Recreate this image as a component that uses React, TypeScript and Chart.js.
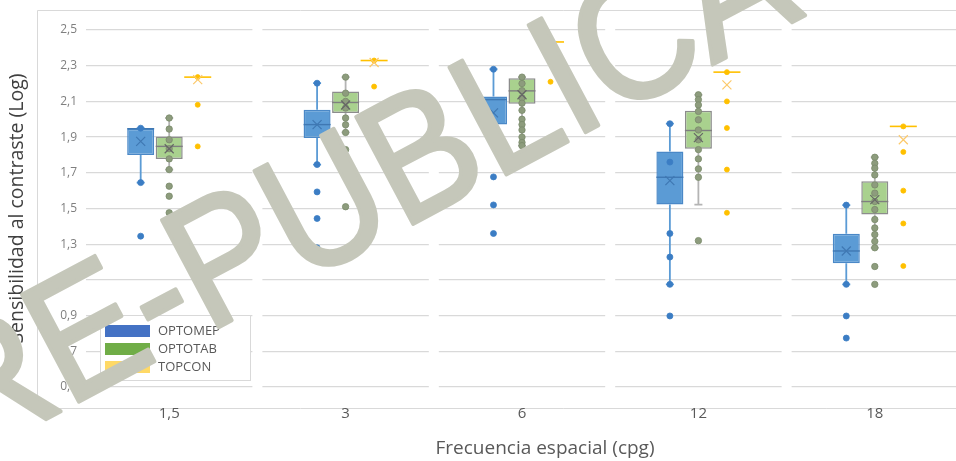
import React, { useEffect, useRef } from 'react';
import { Chart, registerables } from 'chart.js';

Chart.register(...registerables);

// ---------- data ----------
const categories = ['1,5', '3', '6', '12', '18'];
const seriesNames = ['OPTOMEP', 'OPTOTAB', 'TOPCON'];
const yMin = 0.5;
const yMax = 2.5;
const yStep = 0.2;

// OPTOMEP
const optomepQ1 = [1.8, 1.895, 1.97, 1.522, 1.193];
const optomepMedian = [1.947, 1.97, 2.11, 1.675, 1.262];
const optomepQ3 = [1.947, 2.053, 2.127, 1.82, 1.359];
const optomepLow = [1.645, 1.746, 1.97, 1.075, 1.075];
const optomepHigh = [1.95, 2.202, 2.28, 1.975, 1.519];
const optomepMean = [1.876, 1.97, 2.036, 1.656, 1.262];
const optomepPoints = [
  [1.95, 1.645, 1.345],
  [2.202, 1.746, 1.593, 1.444, 1.28],
  [2.28, 1.677, 1.52, 1.36],
  [1.975, 1.76, 1.36, 1.228, 1.075, 0.898],
  [1.519, 1.075, 0.898, 0.774],
];

// OPTOTAB
const optotabQ1 = [1.778, 2.035, 2.087, 1.835, 1.467];
const optotabMedian = [1.848, 2.094, 2.159, 1.937, 1.539];
const optotabQ3 = [1.904, 2.155, 2.23, 2.047, 1.653];
const optotabLow = [1.718, 1.926, 1.852, 1.522, 1.28];
const optotabHigh = [2.007, 2.236, 2.236, 2.137, 1.787];
const optotabMean = [1.835, 2.08, 2.137, 1.897, 1.55];
const optotabPoints = [
  [2.007, 1.945, 1.885, 1.835, 1.778, 1.718, 1.625, 1.569, 1.476],
  [2.236, 2.146, 2.1, 2.063, 2.007, 1.969, 1.926, 1.83, 1.51],
  [2.236, 2.2, 2.16, 2.12, 2.09, 2.05, 2.0, 1.97, 1.94, 1.9, 1.87, 1.852],
  [2.137, 2.11, 2.08, 2.044, 1.997, 1.94, 1.885, 1.83, 1.778, 1.722, 1.675, 1.32],
  [1.787, 1.753, 1.726, 1.688, 1.632, 1.586, 1.539, 1.494, 1.438, 1.391, 1.354, 1.316, 1.28, 1.175, 1.075],
];

// TOPCON
const topconQ1 = [2.236, 2.329, 2.433, 2.264, 1.96];
const topconMedian = [2.236, 2.329, 2.433, 2.264, 1.96];
const topconQ3 = [2.236, 2.329, 2.433, 2.264, 1.96];
const topconLow = [2.236, 2.329, 2.433, 2.264, 1.96];
const topconHigh = [2.236, 2.329, 2.433, 2.264, 1.96];
const topconMean = [2.222, 2.318, 2.405, 2.193, 1.885];
const topconPoints = [
  [2.236, 2.081, 1.848],
  [2.329, 2.183],
  [2.433, 2.21],
  [2.264, 2.1, 1.951, 1.718, 1.476],
  [1.96, 1.817, 1.6, 1.416, 1.178],
];

const watermarkText = 'PRE-PUBLICACIÓN';

// ---------- styles ----------
const series = [
  {
    q1: optomepQ1, med: optomepMedian, q3: optomepQ3, lo: optomepLow, hi: optomepHigh,
    mean: optomepMean, pts: optomepPoints,
    fill: '#5b9bd5', border: '#4a88c7', whisker: '#5b9bd5', medianColor: '#3f78b3',
    meanColor: '#3f78b3', pointFill: '#3b7dc4', pointStroke: '#3b7dc4', pointR: 3,
    legend: '#4472c4', flat: false,
  },
  {
    q1: optotabQ1, med: optotabMedian, q3: optotabQ3, lo: optotabLow, hi: optotabHigh,
    mean: optotabMean, pts: optotabPoints,
    fill: '#a9d18e', border: '#8c8c8c', whisker: '#b4b4b4', medianColor: '#7f7f7f',
    meanColor: '#666666', pointFill: '#8d9c7d', pointStroke: '#7a8a6b', pointR: 3.2,
    legend: '#70ad47', flat: false,
  },
  {
    q1: topconQ1, med: topconMedian, q3: topconQ3, lo: topconLow, hi: topconHigh,
    mean: topconMean, pts: topconPoints,
    fill: 'rgba(0,0,0,0)', border: '#ffc000', whisker: '#ffc000', medianColor: '#ffc000',
    meanColor: '#fcc96a', pointFill: '#ffc000', pointStroke: '#ffc000', pointR: 2.5,
    legend: '#ffd966', flat: true,
  },
];

const CANVAS_W = 1090;
const CANVAS_H = 461;

const decorPlugin = {
  id: 'boxDecor',
  beforeDraw(chart: any) {
    const { ctx } = chart;
    ctx.save();
    ctx.fillStyle = '#ffffff';
    ctx.fillRect(0, 0, chart.width, chart.height);
    ctx.strokeStyle = '#d9d9d9';
    ctx.lineWidth = 1;
    ctx.beginPath();
    ctx.moveTo(37.5, 10.5);
    ctx.lineTo(chart.width, 10.5);
    ctx.moveTo(37.5, 10.5);
    ctx.lineTo(37.5, 408.5);
    ctx.lineTo(chart.width, 408.5);
    ctx.stroke();
    ctx.restore();
  },
  beforeDatasetsDraw(chart: any) {
    const { ctx, chartArea } = chart;
    const ys = chart.scales.y;
    ctx.save();
    // gaps in the gridlines at category boundaries
    ctx.fillStyle = '#ffffff';
    const cw = (chartArea.right - chartArea.left) / categories.length;
    for (let k = 0; k <= categories.length; k++) {
      const bx = chartArea.left + k * cw;
      const l = Math.max(chartArea.left, bx - 5);
      const r = Math.min(chartArea.right, bx + 5);
      ctx.fillRect(l, chartArea.top - 2, r - l, chartArea.bottom - chartArea.top + 4);
    }
    // whiskers
    series.forEach((s, si) => {
      const meta = chart.getDatasetMeta(si);
      meta.data.forEach((bar: any, i: number) => {
        const x = bar.x;
        ctx.strokeStyle = s.whisker;
        ctx.lineWidth = 1.8;
        ctx.beginPath();
        if (s.lo[i] < s.q1[i]) {
          ctx.moveTo(x, ys.getPixelForValue(s.q1[i]));
          ctx.lineTo(x, ys.getPixelForValue(s.lo[i]));
          ctx.moveTo(x - 4, ys.getPixelForValue(s.lo[i]));
          ctx.lineTo(x + 4, ys.getPixelForValue(s.lo[i]));
        }
        if (s.hi[i] > s.q3[i]) {
          ctx.moveTo(x, ys.getPixelForValue(s.q3[i]));
          ctx.lineTo(x, ys.getPixelForValue(s.hi[i]));
          ctx.moveTo(x - 4, ys.getPixelForValue(s.hi[i]));
          ctx.lineTo(x + 4, ys.getPixelForValue(s.hi[i]));
        }
        ctx.stroke();
      });
    });
    ctx.restore();
  },
  afterDatasetsDraw(chart: any) {
    const { ctx } = chart;
    const ys = chart.scales.y;
    ctx.save();
    series.forEach((s, si) => {
      const meta = chart.getDatasetMeta(si);
      meta.data.forEach((bar: any, i: number) => {
        const x = bar.x;
        const w = bar.width;
        // flat box or median line
        const ym = ys.getPixelForValue(s.med[i]);
        ctx.strokeStyle = s.medianColor;
        ctx.lineWidth = s.flat ? 1.6 : 1.4;
        ctx.beginPath();
        ctx.moveTo(x - w / 2, ym);
        ctx.lineTo(x + w / 2, ym);
        ctx.stroke();
        // points
        s.pts[i].forEach((v: number) => {
          const py = ys.getPixelForValue(v);
          ctx.beginPath();
          ctx.arc(x, py, s.pointR, 0, Math.PI * 2);
          ctx.fillStyle = s.pointFill;
          ctx.fill();
          ctx.lineWidth = 0.8;
          ctx.strokeStyle = s.pointStroke;
          ctx.stroke();
        });
        // mean marker
        const ymean = ys.getPixelForValue(s.mean[i]);
        ctx.strokeStyle = s.meanColor;
        ctx.lineWidth = 1.2;
        ctx.beginPath();
        ctx.moveTo(x - 4.5, ymean - 4.5);
        ctx.lineTo(x + 4.5, ymean + 4.5);
        ctx.moveTo(x + 4.5, ymean - 4.5);
        ctx.lineTo(x - 4.5, ymean + 4.5);
        ctx.stroke();
      });
    });
    ctx.restore();
  },
  afterDraw(chart: any) {
    const { ctx } = chart;
    ctx.save();
    // legend
    ctx.fillStyle = '#ffffff';
    ctx.fillRect(100, 315, 150, 65);
    ctx.strokeStyle = '#d9d9d9';
    ctx.lineWidth = 1;
    ctx.strokeRect(100.5, 315.5, 150, 65);
    ctx.font = '13px "Open Sans"';
    ctx.textBaseline = 'middle';
    ctx.textAlign = 'left';
    seriesNames.forEach((name, i) => {
      const yy = 331 + i * 18;
      ctx.fillStyle = series[i].legend;
      ctx.fillRect(105, yy - 6, 45, 12);
      ctx.fillStyle = '#595959';
      ctx.fillText(name, 158, yy);
    });
    // watermark
    ctx.translate(-127, 511);
    ctx.rotate((-28 * Math.PI) / 180);
    ctx.scale(0.9, 1);
    ctx.font = '176px "Liberation Sans"';
    ctx.fillStyle = 'rgb(197,199,186)';
    ctx.strokeStyle = 'rgb(197,199,186)';
    ctx.lineWidth = 4;
    ctx.lineJoin = 'round';
    ctx.textBaseline = 'alphabetic';
    ctx.fillText(watermarkText, 0, 0);
    ctx.strokeText(watermarkText, 0, 0);
    ctx.restore();
  },
};

export default function App() {
  const ref = useRef<HTMLCanvasElement | null>(null);

  useEffect(() => {
    const canvas = ref.current;
    if (!canvas) return;
    const chart = new Chart(canvas, {
      type: 'bar',
      data: {
        labels: categories,
        datasets: series.map((s, si) => ({
          label: seriesNames[si],
          data: s.q1.map((v, i) => [v, s.q3[i]]),
          backgroundColor: s.fill,
          borderColor: s.flat ? 'rgba(0,0,0,0)' : s.border,
          borderWidth: s.flat ? 0 : 1.5,
          borderSkipped: false,
          categoryPercentage: 0.485,
          barPercentage: 0.947,
          yAxisID: 'y',
        })),
      },
      options: {
        animation: false,
        responsive: false,
        devicePixelRatio: 1,
        layout: { padding: { top: 30, left: 0, right: 0, bottom: 0 } },
        plugins: {
          legend: { display: false },
          tooltip: { enabled: false },
          title: {
            display: true,
            text: 'Frecuencia espacial (cpg)',
            position: 'bottom',
            color: '#595959',
            font: { family: 'Open Sans', size: 19, weight: 'normal' },
            padding: { top: 0, bottom: 1 },
          },
        },
        scales: {
          x: {
            type: 'category',
            grid: { display: false, drawTicks: false },
            border: { display: false },
            ticks: {
              color: '#595959',
              font: { family: 'Open Sans', size: 15 },
              padding: 18,
            },
            afterFit: (s: any) => {
              s.height = 50.2;
            },
          },
          y: {
            type: 'linear',
            position: 'left',
            min: yMin,
            max: yMax,
            grid: { color: '#d9d9d9', lineWidth: 1.3, drawTicks: false, tickLength: 0 },
            border: { display: false },
            ticks: {
              stepSize: yStep,
              color: '#7f7f7f',
              font: { family: 'Open Sans', size: 12 },
              padding: 4,
              callback: (v: any) => Number(v).toFixed(1).replace('.', ','),
            },
            title: {
              display: true,
              text: 'Sensibilidad al contraste (Log)',
              color: '#404040',
              font: { family: 'Open Sans', size: 19.5, weight: 'normal' },
              padding: { top: 6, bottom: 0 },
            },
            afterFit: (s: any) => {
              s.width = 81;
            },
          },
          yR: {
            type: 'linear',
            position: 'right',
            display: true,
            grid: { display: false, drawTicks: false },
            border: { display: false },
            ticks: { display: false },
            afterFit: (s: any) => {
              s.width = CANVAS_W - 963;
            },
          },
        },
      } as any,
      plugins: [decorPlugin],
    });
    return () => chart.destroy();
  }, []);

  return (
    <div
      style={{
        position: 'fixed',
        left: 0,
        top: 0,
        width: 956,
        height: CANVAS_H,
        overflow: 'hidden',
        background: '#ffffff',
      }}
    >
      <canvas
        ref={ref}
        width={CANVAS_W}
        height={CANVAS_H}
        style={{ display: 'block', width: CANVAS_W, height: CANVAS_H }}
      />
    </div>
  );
}
